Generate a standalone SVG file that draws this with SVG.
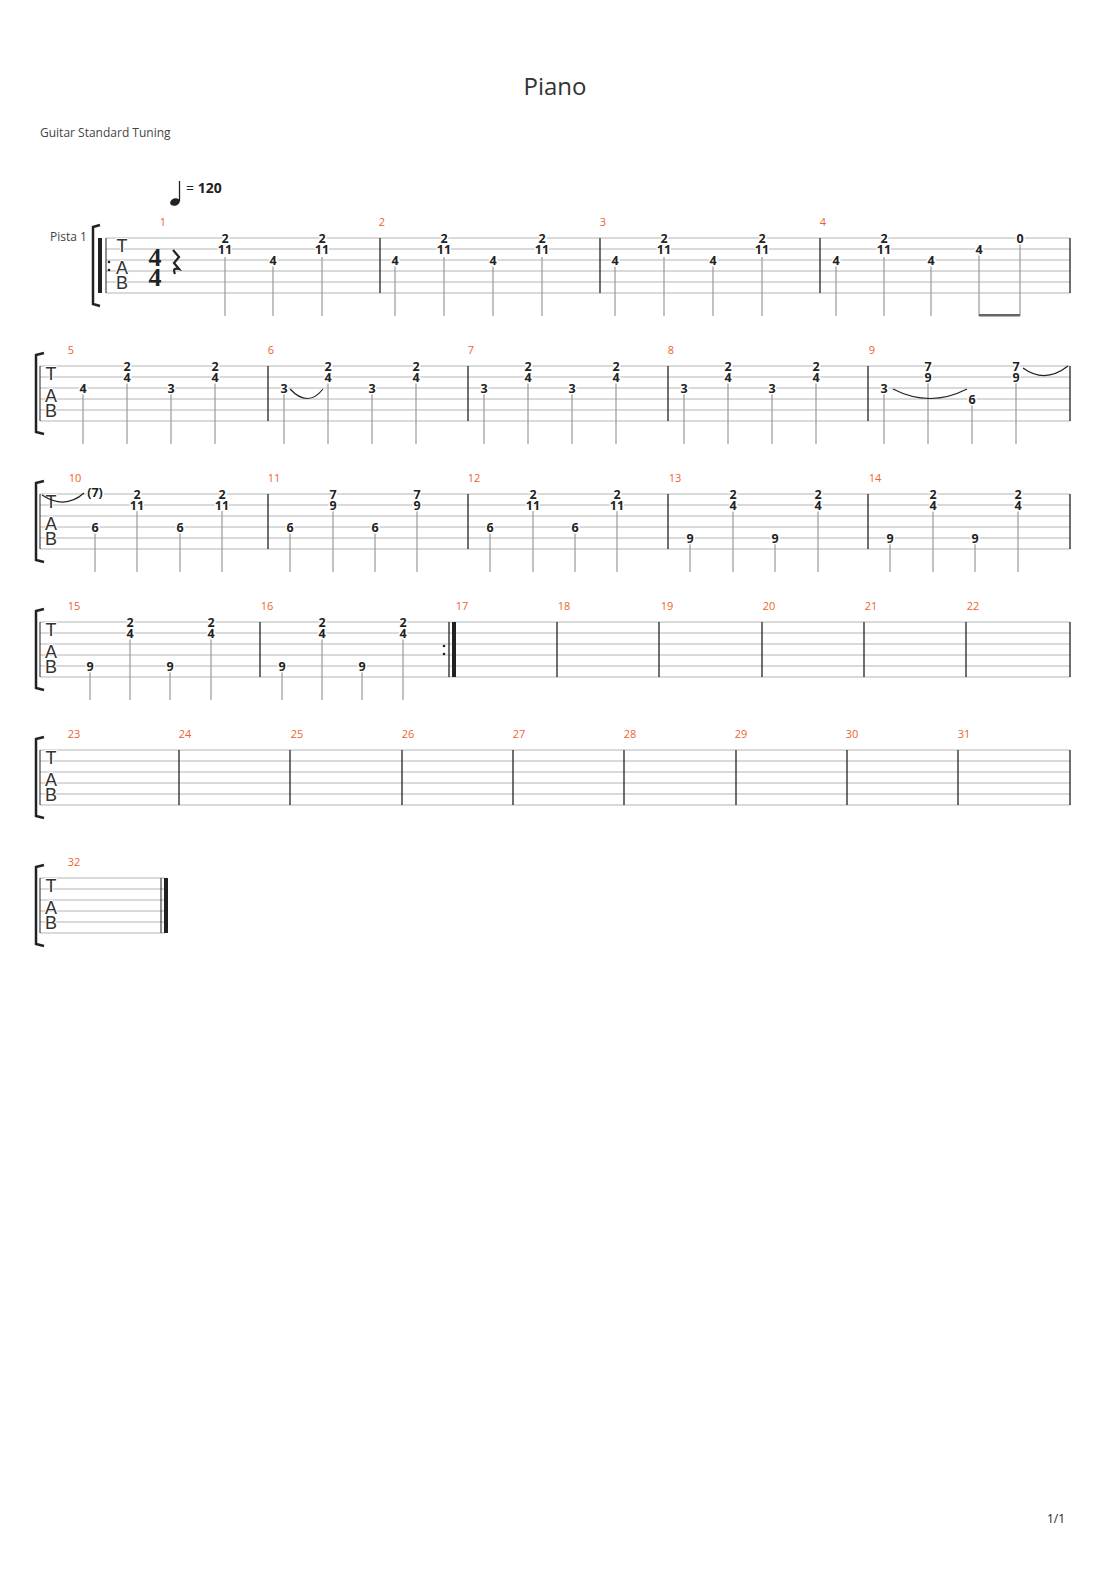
<svg xmlns="http://www.w3.org/2000/svg" width="1110" height="1570" viewBox="0 0 1110 1570">
<style>
.l{stroke:#b4b4b4;stroke-width:1}
.b{stroke:#222;stroke-width:1.3}
.s{stroke:#999;stroke-width:1.2}
.n{font:bold 12.5px "Open Sans","DejaVu Sans",sans-serif;text-anchor:middle;fill:#222;stroke:#fff;stroke-width:3;paint-order:stroke}
.m{font:11px "Open Sans",sans-serif;fill:#f0622d;text-anchor:middle}
.tab{font:18px "Liberation Sans",sans-serif;fill:#333;text-anchor:middle;stroke:#fff;stroke-width:2;paint-order:stroke}
.t{fill:none;stroke:#222;stroke-width:1.2}
.br{fill:none;stroke:#222;stroke-width:2.5}
</style>
<rect width="1110" height="1570" fill="#fff"/>
<text x="555" y="95" font-family="Open Sans,sans-serif" font-size="24" fill="#333" text-anchor="middle">Piano</text>
<text x="40" y="137" font-family="Open Sans,sans-serif" font-size="12" fill="#444">Guitar Standard Tuning</text>
<ellipse cx="175" cy="202" rx="5" ry="3.6" fill="#222" transform="rotate(-20 175 202)"/>
<line x1="179.5" y1="201" x2="179.5" y2="181" stroke="#222" stroke-width="1.3"/>
<text x="186" y="193" font-family="Open Sans,sans-serif" font-size="14" fill="#222">= <tspan font-weight="bold">120</tspan></text>
<text x="50" y="241" font-family="Open Sans,sans-serif" font-size="12" fill="#444">Pista 1</text>

<g id="sys1">
<g class="l"><line x1="106" y1="238" x2="1070" y2="238"/><line x1="106" y1="249" x2="1070" y2="249"/><line x1="106" y1="260" x2="1070" y2="260"/><line x1="106" y1="271" x2="1070" y2="271"/><line x1="106" y1="282" x2="1070" y2="282"/><line x1="106" y1="293" x2="1070" y2="293"/></g>
<path class="br" d="M100 225 L93 227 L93 304 L100 306"/>
<rect x="98" y="238" width="4" height="55" fill="#222"/>
<line x1="106" y1="238" x2="106" y2="293" stroke="#222" stroke-width="1"/>
<circle cx="109" cy="262" r="1.3" fill="#222"/><circle cx="109" cy="270" r="1.3" fill="#222"/>
<text class="tab" x="122" y="252">T</text><text class="tab" x="122" y="274">A</text><text class="tab" x="122" y="289">B</text>
<text x="155" y="266" font-family="Liberation Serif,serif" font-weight="bold" font-size="26" text-anchor="middle" fill="#222">4</text>
<text x="155" y="286" font-family="Liberation Serif,serif" font-weight="bold" font-size="26" text-anchor="middle" fill="#222">4</text>
<path d="M173 250 L179 257 L174 263 L179 269 Q172 267 175 274" fill="none" stroke="#222" stroke-width="2.2"/>
<g class="b"><line x1="380" y1="238" x2="380" y2="293"/><line x1="600" y1="238" x2="600" y2="293"/><line x1="820" y1="238" x2="820" y2="293"/><line x1="1070" y1="238" x2="1070" y2="293"/></g>
<text class="m" x="163" y="226">1</text><text class="m" x="382" y="226">2</text><text class="m" x="603" y="226">3</text><text class="m" x="823" y="226">4</text>
<g class="s"><line x1="225" y1="257" x2="225" y2="316"/><line x1="273" y1="266" x2="273" y2="316"/><line x1="322" y1="257" x2="322" y2="316"/><line x1="395" y1="266" x2="395" y2="316"/><line x1="444" y1="257" x2="444" y2="316"/><line x1="493" y1="266" x2="493" y2="316"/><line x1="542" y1="257" x2="542" y2="316"/><line x1="615" y1="266" x2="615" y2="316"/><line x1="664" y1="257" x2="664" y2="316"/><line x1="713" y1="266" x2="713" y2="316"/><line x1="762" y1="257" x2="762" y2="316"/><line x1="836" y1="266" x2="836" y2="316"/><line x1="884" y1="257" x2="884" y2="316"/><line x1="931" y1="266" x2="931" y2="316"/><line x1="979" y1="255" x2="979" y2="316"/><line x1="1020" y1="244" x2="1020" y2="316"/></g>
<rect x="979" y="314" width="41" height="2.5" fill="#666"/>
<g class="n">
<text x="225" y="243">2</text><text x="225" y="254">11</text><text x="273" y="265">4</text><text x="322" y="243">2</text><text x="322" y="254">11</text>
<text x="395" y="265">4</text><text x="444" y="243">2</text><text x="444" y="254">11</text><text x="493" y="265">4</text><text x="542" y="243">2</text><text x="542" y="254">11</text>
<text x="615" y="265">4</text><text x="664" y="243">2</text><text x="664" y="254">11</text><text x="713" y="265">4</text><text x="762" y="243">2</text><text x="762" y="254">11</text>
<text x="836" y="265">4</text><text x="884" y="243">2</text><text x="884" y="254">11</text><text x="931" y="265">4</text><text x="979" y="254">4</text><text x="1020" y="243">0</text>
</g>
</g>

<g id="sys2">
<g class="l"><line x1="40" y1="366" x2="1070" y2="366"/><line x1="40" y1="377" x2="1070" y2="377"/><line x1="40" y1="388" x2="1070" y2="388"/><line x1="40" y1="399" x2="1070" y2="399"/><line x1="40" y1="410" x2="1070" y2="410"/><line x1="40" y1="421" x2="1070" y2="421"/></g>
<path class="br" d="M44 353 L36 355 L36 432 L44 434"/>
<line x1="40" y1="366" x2="40" y2="421" stroke="#222"/>
<text class="tab" x="51" y="380">T</text><text class="tab" x="51" y="402">A</text><text class="tab" x="51" y="417">B</text>
<g class="b"><line x1="268" y1="366" x2="268" y2="421"/><line x1="468" y1="366" x2="468" y2="421"/><line x1="668" y1="366" x2="668" y2="421"/><line x1="868" y1="366" x2="868" y2="421"/><line x1="1070" y1="366" x2="1070" y2="421"/></g>
<text class="m" x="71" y="354">5</text><text class="m" x="271" y="354">6</text><text class="m" x="471" y="354">7</text><text class="m" x="671" y="354">8</text><text class="m" x="872" y="354">9</text>
<g class="s">
<line x1="83" y1="394" x2="83" y2="444"/><line x1="127" y1="383" x2="127" y2="444"/><line x1="171" y1="394" x2="171" y2="444"/><line x1="215" y1="383" x2="215" y2="444"/>
<line x1="284" y1="394" x2="284" y2="444"/><line x1="328" y1="383" x2="328" y2="444"/><line x1="372" y1="394" x2="372" y2="444"/><line x1="416" y1="383" x2="416" y2="444"/>
<line x1="484" y1="394" x2="484" y2="444"/><line x1="528" y1="383" x2="528" y2="444"/><line x1="572" y1="394" x2="572" y2="444"/><line x1="616" y1="383" x2="616" y2="444"/>
<line x1="684" y1="394" x2="684" y2="444"/><line x1="728" y1="383" x2="728" y2="444"/><line x1="772" y1="394" x2="772" y2="444"/><line x1="816" y1="383" x2="816" y2="444"/>
<line x1="884" y1="394" x2="884" y2="444"/><line x1="928" y1="383" x2="928" y2="444"/><line x1="972" y1="405" x2="972" y2="444"/><line x1="1016" y1="383" x2="1016" y2="444"/>
</g>
<path class="t" d="M290 389 Q308 408 323 389"/>
<path class="t" d="M893 389 Q930 408 967 389"/>
<path class="t" d="M1023 368 Q1045 384 1068 366"/>
<g class="n">
<text x="83" y="393">4</text><text x="127" y="371">2</text><text x="127" y="382">4</text><text x="171" y="393">3</text><text x="215" y="371">2</text><text x="215" y="382">4</text>
<text x="284" y="393">3</text><text x="328" y="371">2</text><text x="328" y="382">4</text><text x="372" y="393">3</text><text x="416" y="371">2</text><text x="416" y="382">4</text>
<text x="484" y="393">3</text><text x="528" y="371">2</text><text x="528" y="382">4</text><text x="572" y="393">3</text><text x="616" y="371">2</text><text x="616" y="382">4</text>
<text x="684" y="393">3</text><text x="728" y="371">2</text><text x="728" y="382">4</text><text x="772" y="393">3</text><text x="816" y="371">2</text><text x="816" y="382">4</text>
<text x="884" y="393">3</text><text x="928" y="371">7</text><text x="928" y="382">9</text><text x="972" y="404">6</text><text x="1016" y="371">7</text><text x="1016" y="382">9</text>
</g>
</g>

<g id="sys3">
<g class="l"><line x1="40" y1="494" x2="1070" y2="494"/><line x1="40" y1="505" x2="1070" y2="505"/><line x1="40" y1="516" x2="1070" y2="516"/><line x1="40" y1="527" x2="1070" y2="527"/><line x1="40" y1="538" x2="1070" y2="538"/><line x1="40" y1="549" x2="1070" y2="549"/></g>
<path class="br" d="M44 481 L36 483 L36 560 L44 562"/>
<line x1="40" y1="494" x2="40" y2="549" stroke="#222"/>
<text class="tab" x="51" y="508">T</text><text class="tab" x="51" y="530">A</text><text class="tab" x="51" y="545">B</text>
<g class="b"><line x1="268" y1="494" x2="268" y2="549"/><line x1="468" y1="494" x2="468" y2="549"/><line x1="668" y1="494" x2="668" y2="549"/><line x1="868" y1="494" x2="868" y2="549"/><line x1="1070" y1="494" x2="1070" y2="549"/></g>
<text class="m" x="75" y="482">10</text><text class="m" x="274" y="482">11</text><text class="m" x="474" y="482">12</text><text class="m" x="675" y="482">13</text><text class="m" x="875" y="482">14</text>
<path class="t" d="M42 495 Q65 510 84 493"/>
<g class="s">
<line x1="95" y1="533" x2="95" y2="572"/><line x1="137" y1="511" x2="137" y2="572"/><line x1="180" y1="533" x2="180" y2="572"/><line x1="222" y1="511" x2="222" y2="572"/>
<line x1="290" y1="533" x2="290" y2="572"/><line x1="333" y1="511" x2="333" y2="572"/><line x1="375" y1="533" x2="375" y2="572"/><line x1="417" y1="511" x2="417" y2="572"/>
<line x1="490" y1="533" x2="490" y2="572"/><line x1="533" y1="511" x2="533" y2="572"/><line x1="575" y1="533" x2="575" y2="572"/><line x1="617" y1="511" x2="617" y2="572"/>
<line x1="690" y1="544" x2="690" y2="572"/><line x1="733" y1="511" x2="733" y2="572"/><line x1="775" y1="544" x2="775" y2="572"/><line x1="818" y1="511" x2="818" y2="572"/>
<line x1="890" y1="544" x2="890" y2="572"/><line x1="933" y1="511" x2="933" y2="572"/><line x1="975" y1="544" x2="975" y2="572"/><line x1="1018" y1="511" x2="1018" y2="572"/>
</g>
<g class="n">
<text x="95" y="497">(7)</text>
<text x="95" y="532">6</text><text x="137" y="499">2</text><text x="137" y="510">11</text><text x="180" y="532">6</text><text x="222" y="499">2</text><text x="222" y="510">11</text>
<text x="290" y="532">6</text><text x="333" y="499">7</text><text x="333" y="510">9</text><text x="375" y="532">6</text><text x="417" y="499">7</text><text x="417" y="510">9</text>
<text x="490" y="532">6</text><text x="533" y="499">2</text><text x="533" y="510">11</text><text x="575" y="532">6</text><text x="617" y="499">2</text><text x="617" y="510">11</text>
<text x="690" y="543">9</text><text x="733" y="499">2</text><text x="733" y="510">4</text><text x="775" y="543">9</text><text x="818" y="499">2</text><text x="818" y="510">4</text>
<text x="890" y="543">9</text><text x="933" y="499">2</text><text x="933" y="510">4</text><text x="975" y="543">9</text><text x="1018" y="499">2</text><text x="1018" y="510">4</text>
</g>
</g>

<g id="sys4">
<g class="l"><line x1="40" y1="622" x2="1070" y2="622"/><line x1="40" y1="633" x2="1070" y2="633"/><line x1="40" y1="644" x2="1070" y2="644"/><line x1="40" y1="655" x2="1070" y2="655"/><line x1="40" y1="666" x2="1070" y2="666"/><line x1="40" y1="677" x2="1070" y2="677"/></g>
<path class="br" d="M44 609 L36 611 L36 688 L44 690"/>
<line x1="40" y1="622" x2="40" y2="677" stroke="#222"/>
<text class="tab" x="51" y="636">T</text><text class="tab" x="51" y="658">A</text><text class="tab" x="51" y="673">B</text>
<g class="b"><line x1="260" y1="622" x2="260" y2="677"/><line x1="449" y1="622" x2="449" y2="677"/><line x1="557" y1="622" x2="557" y2="677"/><line x1="659" y1="622" x2="659" y2="677"/><line x1="762" y1="622" x2="762" y2="677"/><line x1="864" y1="622" x2="864" y2="677"/><line x1="966" y1="622" x2="966" y2="677"/><line x1="1070" y1="622" x2="1070" y2="677"/></g>
<rect x="452" y="622" width="4" height="55" fill="#222"/>
<circle cx="444" cy="646" r="1.3" fill="#222"/><circle cx="444" cy="654" r="1.3" fill="#222"/>
<text class="m" x="74" y="610">15</text><text class="m" x="267" y="610">16</text><text class="m" x="462" y="610">17</text><text class="m" x="564" y="610">18</text><text class="m" x="667" y="610">19</text><text class="m" x="769" y="610">20</text><text class="m" x="871" y="610">21</text><text class="m" x="973" y="610">22</text>
<g class="s">
<line x1="90" y1="672" x2="90" y2="700"/><line x1="130" y1="639" x2="130" y2="700"/><line x1="170" y1="672" x2="170" y2="700"/><line x1="211" y1="639" x2="211" y2="700"/>
<line x1="282" y1="672" x2="282" y2="700"/><line x1="322" y1="639" x2="322" y2="700"/><line x1="362" y1="672" x2="362" y2="700"/><line x1="403" y1="639" x2="403" y2="700"/>
</g>
<g class="n">
<text x="90" y="671">9</text><text x="130" y="627">2</text><text x="130" y="638">4</text><text x="170" y="671">9</text><text x="211" y="627">2</text><text x="211" y="638">4</text>
<text x="282" y="671">9</text><text x="322" y="627">2</text><text x="322" y="638">4</text><text x="362" y="671">9</text><text x="403" y="627">2</text><text x="403" y="638">4</text>
</g>
</g>

<g id="sys5">
<g class="l"><line x1="40" y1="750" x2="1070" y2="750"/><line x1="40" y1="761" x2="1070" y2="761"/><line x1="40" y1="772" x2="1070" y2="772"/><line x1="40" y1="783" x2="1070" y2="783"/><line x1="40" y1="794" x2="1070" y2="794"/><line x1="40" y1="805" x2="1070" y2="805"/></g>
<path class="br" d="M44 737 L36 739 L36 816 L44 818"/>
<line x1="40" y1="750" x2="40" y2="805" stroke="#222"/>
<text class="tab" x="51" y="764">T</text><text class="tab" x="51" y="786">A</text><text class="tab" x="51" y="801">B</text>
<g class="b"><line x1="179" y1="750" x2="179" y2="805"/><line x1="290" y1="750" x2="290" y2="805"/><line x1="402" y1="750" x2="402" y2="805"/><line x1="513" y1="750" x2="513" y2="805"/><line x1="624" y1="750" x2="624" y2="805"/><line x1="736" y1="750" x2="736" y2="805"/><line x1="847" y1="750" x2="847" y2="805"/><line x1="958" y1="750" x2="958" y2="805"/><line x1="1070" y1="750" x2="1070" y2="805"/></g>
<text class="m" x="74" y="738">23</text><text class="m" x="185" y="738">24</text><text class="m" x="297" y="738">25</text><text class="m" x="408" y="738">26</text><text class="m" x="519" y="738">27</text><text class="m" x="630" y="738">28</text><text class="m" x="741" y="738">29</text><text class="m" x="852" y="738">30</text><text class="m" x="964" y="738">31</text>
</g>

<g id="sys6">
<g class="l"><line x1="40" y1="878" x2="165" y2="878"/><line x1="40" y1="889" x2="165" y2="889"/><line x1="40" y1="900" x2="165" y2="900"/><line x1="40" y1="911" x2="165" y2="911"/><line x1="40" y1="922" x2="165" y2="922"/><line x1="40" y1="933" x2="165" y2="933"/></g>
<path class="br" d="M44 865 L36 867 L36 944 L44 946"/>
<line x1="40" y1="878" x2="40" y2="933" stroke="#222"/>
<text class="tab" x="51" y="892">T</text><text class="tab" x="51" y="914">A</text><text class="tab" x="51" y="929">B</text>
<line x1="161" y1="878" x2="161" y2="933" stroke="#222"/>
<rect x="164" y="878" width="4" height="55" fill="#222"/>
<text class="m" x="74" y="866">32</text>
</g>
<text x="1056" y="1523" font-family="Open Sans,sans-serif" font-size="12" fill="#222" text-anchor="middle">1/1</text>
</svg>
